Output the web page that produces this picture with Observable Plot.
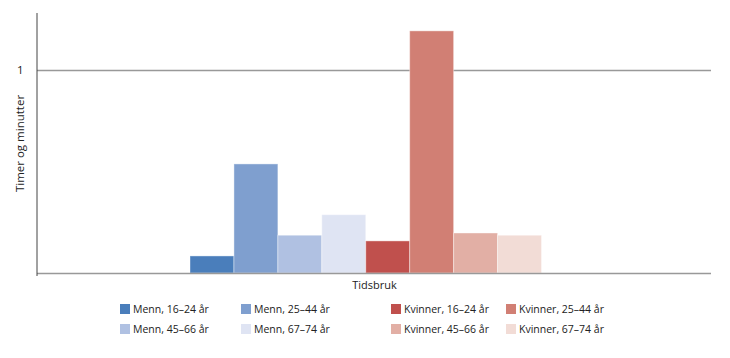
<!DOCTYPE html>
<html>
<head>
<meta charset="utf-8">
<script src="https://cdn.jsdelivr.net/npm/d3@7"></script>
<script src="https://cdn.jsdelivr.net/npm/@observablehq/plot@0.6"></script>
<style>
  html, body { margin: 0; padding: 0; background: #fff; }
  body { width: 730px; height: 358px; overflow: hidden; font-family: "Open Sans", sans-serif; color: #222; }
  #legend { display: grid; grid-template-columns: 121px 150px 115px 150px; margin-left: 120px; margin-top: 5px; row-gap: 3px; font-size: 10.5px; }
  .item { display: flex; align-items: center; white-space: nowrap; height: 17px; }
  .sw { width: 10px; height: 10px; margin-right: 3px; flex: none; }
</style>
</head>
<body>
<div id="chart"></div>
<div id="legend"></div>
<script>
const series = ["Menn, 16–24 år", "Menn, 25–44 år", "Menn, 45–66 år", "Menn, 67–74 år",
                "Kvinner, 16–24 år", "Kvinner, 25–44 år", "Kvinner, 45–66 år", "Kvinner, 67–74 år"];
const values = [0.084, 0.537, 0.186, 0.287, 0.158, 1.192, 0.197, 0.186];
const colors = ["#4a7ebb", "#7f9fcf", "#b0c1e2", "#dfe4f3", "#c0504d", "#d17f74", "#e2afa5", "#f2dcd6"];
const legendOrder = ["Menn, 16–24 år", "Menn, 25–44 år", "Kvinner, 16–24 år", "Kvinner, 25–44 år",
                     "Menn, 45–66 år", "Menn, 67–74 år", "Kvinner, 45–66 år", "Kvinner, 67–74 år"];
const yTicks = [1];
const category = "Tidsbruk";
const yLabel = "Timer og minutter";

const data = series.map((s, i) => ({series: s, value: values[i]}));

const plot = Plot.plot({
  width: 730,
  height: 295,
  marginLeft: 37,
  marginRight: 19,
  marginTop: 13,
  marginBottom: 22,
  style: {fontFamily: "Open Sans, sans-serif", fontSize: "10.5px", color: "#222"},
  x: {domain: series, range: [190, 541.5], padding: 0, round: false, axis: null},
  y: {domain: [0, 1.28]},
  color: {domain: series, range: colors},
  marks: [
    Plot.ruleY(yTicks, {stroke: "#999", strokeWidth: 1.5}),
    Plot.barY(data, {x: "series", y: "value", fill: "series", stroke: "#fff", strokeOpacity: 0.4, strokeWidth: 1}),
    Plot.ruleY([0], {stroke: "#999", strokeWidth: 1.5}),
    Plot.axisY({ticks: yTicks, tickSize: 0, tickPadding: 14, fontSize: 11.5, label: yLabel, labelAnchor: "center", labelOffset: 22, labelArrow: "none", tickFormat: d => String(d)}),
    Plot.text([category], {frameAnchor: "bottom", dy: 15, text: d => d, fontSize: 11, fill: "#222"})
  ]
});

const y = plot.scale("y");
d3.select(plot).append("line")
  .attr("x1", 37).attr("x2", 37)
  .attr("y1", y.apply(1.28)).attr("y2", y.apply(0) + 3)
  .attr("stroke", "#444").attr("stroke-width", 1);

document.getElementById("chart").appendChild(plot);

const legend = d3.select("#legend");
legendOrder.forEach(s => {
  const it = legend.append("div").attr("class", "item");
  it.append("div").attr("class", "sw").style("background", colors[series.indexOf(s)]);
  it.append("span").text(s);
});
</script>
</body>
</html>
